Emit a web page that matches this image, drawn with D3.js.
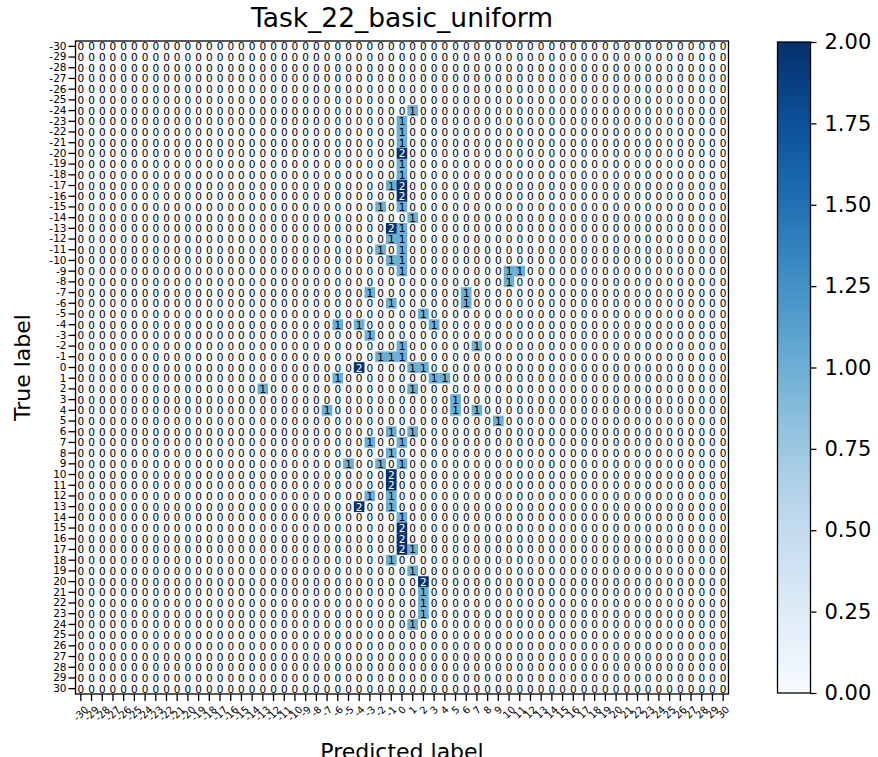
<!DOCTYPE html>
<html>
<head>
<meta charset="utf-8">
<script src="https://cdn.jsdelivr.net/npm/d3@7"></script>
<style>
  html, body { margin: 0; padding: 0; background: #fff; }
  svg { display: block; font-family: "DejaVu Sans", sans-serif; }
</style>
</head>
<body>
<svg id="chart" width="878" height="757"></svg>
<script>
// Class labels shared by both axes
const labels = d3.range(-30, 31);

// Non-zero cells of the confusion matrix: true label, predicted label, count
const trueLabel = [-24,-23,-22,-21,-20,-19,-18,-17,-17,-16,-15,-15,-14,-13,-13,-12,-12,-11,-11,-10,-10,
  -9,-9,-9,-8,-7,-7,-6,-6,-5,-4,-4,-4,-3,-2,-2,-1,-1,-1,0,0,0,1,1,1,2,2,3,4,4,4,5,6,6,7,7,8,
  9,9,9,10,11,12,12,13,13,14,15,16,17,17,18,19,20,21,22,23,24];
const predLabel = [1,0,0,0,0,0,0,-1,0,0,-2,0,1,-1,0,-1,0,-2,0,-1,0,
  0,10,11,10,-3,6,-1,6,2,-6,-4,3,-3,0,7,-2,-1,0,-4,1,2,-6,3,4,-13,1,5,-7,5,7,9,-1,1,-3,0,-1,
  -5,-2,0,-1,-1,-3,-1,-4,-1,0,0,0,0,1,-1,1,2,2,2,2,1];
const counts = [1,1,1,1,2,1,1,1,2,2,1,1,1,2,1,1,1,1,1,1,1,
  1,1,1,1,1,1,1,1,1,1,1,1,1,1,1,1,1,1,2,1,1,1,1,1,1,1,1,1,1,1,1,1,1,1,1,1,
  1,1,1,2,2,1,1,2,1,1,2,2,2,1,1,1,2,1,1,1,1];

// Colour bar range and ticks
const colorMin = 0, colorMax = 2;
const colorTicks = [0, 0.25, 0.5, 0.75, 1.0, 1.25, 1.5, 1.75, 2.0];

const titleText = "Task_22_basic_uniform";
const xTitle = "Predicted label";
const yTitle = "True label";

// Build the full matrix (all other cells are 0)
const lookup = new Map();
trueLabel.forEach((t, i) => lookup.set(t + "," + predLabel[i], counts[i]));
const cells = [];
labels.forEach(t => labels.forEach(p => {
  cells.push({ t, p, v: lookup.get(t + "," + p) || 0 });
}));

const svg = d3.select("#chart");

const plot = { left: 75.5, top: 41, width: 653, height: 653 };

const x = d3.scaleBand().domain(labels).range([plot.left, plot.left + plot.width]);
const y = d3.scaleBand().domain(labels).range([plot.top, plot.top + plot.height]);
const color = d3.scaleSequential(d3.interpolateBlues).domain([colorMin, colorMax]);
const thresh = colorMax / 2;

// Heatmap cells
svg.append("g")
  .selectAll("rect")
  .data(cells)
  .join("rect")
  .attr("x", d => x(d.p))
  .attr("y", d => y(d.t))
  .attr("width", x.bandwidth() + 0.3)
  .attr("height", y.bandwidth() + 0.3)
  .attr("fill", d => color(d.v));

// Cell counts
svg.append("g")
  .selectAll("text")
  .data(cells)
  .join("text")
  .attr("x", d => x(d.p) + x.bandwidth() / 2)
  .attr("y", d => y(d.t) + y.bandwidth() / 2)
  .attr("text-anchor", "middle")
  .attr("dominant-baseline", "central")
  .attr("font-size", 10.5)
  .attr("fill", d => d.v > thresh ? "#fff" : "#000")
  .text(d => d.v);

// Frame
svg.append("rect")
  .attr("x", plot.left).attr("y", plot.top)
  .attr("width", plot.width).attr("height", plot.height)
  .attr("fill", "none").attr("stroke", "#000").attr("stroke-width", 1.3);

// Y axis
const yAxis = svg.append("g")
  .attr("transform", `translate(${plot.left},0)`)
  .call(d3.axisLeft(y).tickSize(7).tickPadding(2));
yAxis.select(".domain").remove();
yAxis.selectAll("line").attr("stroke", "#000").attr("stroke-width", 1.3);
yAxis.selectAll("text").attr("font-size", 10.5).attr("fill", "#000")
  .attr("font-family", "DejaVu Sans");

// X axis with labels rotated 45 degrees
const xFont = 10;
const xAxis = svg.append("g")
  .attr("transform", `translate(0,${plot.top + plot.height})`)
  .call(d3.axisBottom(x).tickSize(7).tickPadding(0));
xAxis.select(".domain").remove();
xAxis.selectAll("line").attr("stroke", "#000").attr("stroke-width", 1.3);
xAxis.selectAll("text")
  .attr("font-size", xFont)
  .attr("font-family", "DejaVu Sans")
  .attr("fill", "#000")
  .attr("dy", null)
  .attr("text-anchor", "middle")
  .attr("dominant-baseline", "central")
  .each(function () {
    const w = this.getComputedTextLength();
    const h = xFont * 0.75;
    const half = (w + h) * Math.SQRT1_2 / 2;
    d3.select(this)
      .attr("y", 0)
      .attr("transform", `translate(0,${7 + 4 + half}) rotate(-45)`);
  });

// Title and axis titles
svg.append("text")
  .attr("x", plot.left + plot.width / 2).attr("y", 27)
  .attr("text-anchor", "middle").attr("font-size", 26.5).attr("fill", "#000")
  .text(titleText);

svg.append("text")
  .attr("x", plot.left + plot.width / 2).attr("y", 759)
  .attr("text-anchor", "middle").attr("font-size", 22).attr("fill", "#000")
  .text(xTitle);

svg.append("text")
  .attr("transform", `translate(30,${plot.top + plot.height / 2}) rotate(-90)`)
  .attr("text-anchor", "middle").attr("font-size", 22).attr("fill", "#000")
  .text(yTitle);

// Colour bar
const cb = { x: 777.5, y: 42, width: 33, height: 651 };
const defs = svg.append("defs");
const grad = defs.append("linearGradient").attr("id", "cbGrad")
  .attr("x1", 0).attr("y1", 1).attr("x2", 0).attr("y2", 0);
d3.range(0, 1.0001, 0.05).forEach(s => {
  grad.append("stop").attr("offset", s).attr("stop-color", d3.interpolateBlues(s));
});
svg.append("rect")
  .attr("x", cb.x).attr("y", cb.y).attr("width", cb.width).attr("height", cb.height)
  .attr("fill", "url(#cbGrad)");
const cbScale = d3.scaleLinear().domain([colorMin, colorMax]).range([cb.y + cb.height, cb.y]);
const cbAxis = svg.append("g")
  .attr("transform", `translate(${cb.x + cb.width},0)`)
  .call(d3.axisRight(cbScale).tickValues(colorTicks).tickFormat(d3.format(".2f")).tickSize(6).tickPadding(8));
cbAxis.select(".domain").remove();
cbAxis.selectAll("line").attr("stroke", "#000").attr("stroke-width", 1.3);
cbAxis.selectAll("text").attr("font-size", 21).attr("fill", "#000")
  .attr("font-family", "DejaVu Sans");
svg.append("rect")
  .attr("x", cb.x).attr("y", cb.y).attr("width", cb.width).attr("height", cb.height)
  .attr("fill", "none").attr("stroke", "#000").attr("stroke-width", 1.3);
</script>
</body>
</html>
